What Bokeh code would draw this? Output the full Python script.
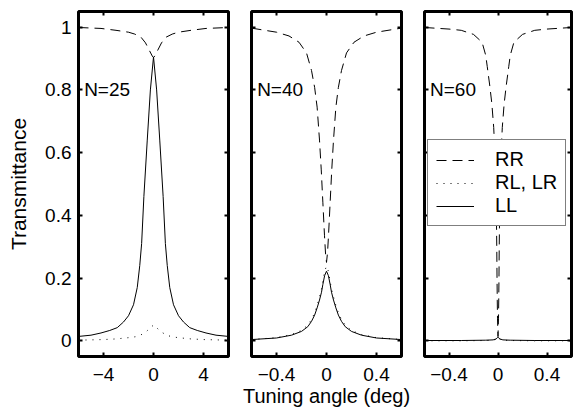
from bokeh.plotting import figure
from bokeh.models import (Range1d, FixedTicker, CustomJSTickFormatter, LinearAxis,
                          Label, Legend, LegendItem)
from bokeh.layouts import row
from bokeh.embed import file_html
from bokeh.resources import INLINE

FONT = "Liberation Sans"

# ---------------- data ----------------
y_ticks = [0, 0.2, 0.4, 0.6, 0.8, 1.0]
x_ticks_n25 = [-4, 0, 4]
x_ticks_n40 = [-0.4, 0, 0.4]
x_ticks_n60 = [-0.4, 0, 0.4]
panel_labels = ["N=25", "N=40", "N=60"]
legend_labels = ["RR", "RL, LR", "LL"]

# N=25
n25_ll_x = [-6, -5, -4.2, -3.5, -2.9, -2.4, -2.0, -1.6, -1.3, -1.1, -0.95, -0.77, -0.5, -0.25, 0,
            0.25, 0.5, 0.77, 0.95, 1.1, 1.3, 1.6, 2.0, 2.4, 2.9, 3.5, 4.2, 5, 6]
n25_ll = [0.014, 0.018, 0.025, 0.033, 0.042, 0.06, 0.08, 0.115, 0.17, 0.24, 0.31, 0.46, 0.64, 0.80, 0.905,
          0.80, 0.64, 0.46, 0.31, 0.24, 0.17, 0.115, 0.08, 0.06, 0.042, 0.033, 0.025, 0.018, 0.014]
n25_rr_x = [-6, -4.2, -3, -2, -1.5, -1.0, -0.64, -0.32, -0.1, 0,
            0.1, 0.32, 0.64, 1.0, 1.5, 2, 3, 4.2, 6]
n25_rr = [0.999, 0.996, 0.99, 0.984, 0.978, 0.968, 0.95, 0.925, 0.908, 0.903,
          0.908, 0.925, 0.95, 0.968, 0.978, 0.984, 0.99, 0.996, 0.999]
n25_rl_x = [-6, -4, -3, -2, -1.44, -1, -0.56, -0.25, 0, 0.25, 0.56, 1, 1.44, 2, 3, 4, 6]
n25_rl = [0.002, 0.004, 0.006, 0.01, 0.013, 0.019, 0.03, 0.042, 0.05,
          0.042, 0.03, 0.019, 0.013, 0.01, 0.006, 0.004, 0.002]

# N=40
n40_rr_x = [-0.6, -0.4, -0.3, -0.22, -0.16, -0.12, -0.095, -0.075, -0.056, -0.042, -0.029, -0.016, -0.008, 0,
            0.008, 0.016, 0.029, 0.042, 0.056, 0.075, 0.095, 0.12, 0.16, 0.22, 0.3, 0.4, 0.6]
n40_rr = [0.997, 0.984, 0.972, 0.952, 0.918, 0.862, 0.808, 0.745, 0.64, 0.545, 0.44, 0.335, 0.28, 0.25,
          0.28, 0.335, 0.44, 0.545, 0.64, 0.745, 0.808, 0.862, 0.918, 0.952, 0.972, 0.984, 0.997]
n40_ll_x = [-0.6, -0.4, -0.28, -0.2, -0.15, -0.12, -0.095, -0.075, -0.056, -0.04, -0.029, -0.015, 0,
            0.015, 0.029, 0.04, 0.056, 0.075, 0.095, 0.12, 0.15, 0.2, 0.28, 0.4, 0.6]
n40_ll = [0.004, 0.009, 0.018, 0.03, 0.045, 0.062, 0.082, 0.105, 0.13, 0.155, 0.18, 0.208, 0.222,
          0.208, 0.18, 0.155, 0.13, 0.105, 0.082, 0.062, 0.045, 0.03, 0.018, 0.009, 0.004]
n40_rl = [0.004, 0.01, 0.02, 0.033, 0.05, 0.068, 0.089, 0.113, 0.14, 0.165, 0.19, 0.222, 0.238,
          0.222, 0.19, 0.165, 0.14, 0.113, 0.089, 0.068, 0.05, 0.033, 0.02, 0.01, 0.004]

# N=60
n60_rr_x = [-0.6, -0.4, -0.3, -0.2, -0.13, -0.1, -0.088, -0.066, -0.05, -0.035, -0.025, -0.018, -0.013,
            -0.01, -0.008, -0.006, -0.004, 0,
            0.004, 0.006, 0.008, 0.01, 0.013, 0.018, 0.025, 0.035, 0.05, 0.066, 0.088, 0.1, 0.13, 0.2,
            0.3, 0.4, 0.6]
n60_rr = [0.999, 0.994, 0.99, 0.977, 0.952, 0.91, 0.875, 0.81, 0.755, 0.68, 0.596, 0.50, 0.40,
          0.30, 0.20, 0.13, 0.07, 0.015,
          0.07, 0.13, 0.20, 0.30, 0.40, 0.50, 0.596, 0.68, 0.755, 0.81, 0.875, 0.91, 0.952, 0.977,
          0.99, 0.994, 0.999]
n60_ll_x = [-0.6, -0.3, -0.1, -0.04, -0.015, -0.005, 0, 0.005, 0.015, 0.04, 0.1, 0.3, 0.6]
n60_ll = [0.001, 0.001, 0.002, 0.003, 0.006, 0.01, 0.014, 0.01, 0.006, 0.003, 0.002, 0.001, 0.001]
n60_rl = [0.0, 0.0, 0.001, 0.002, 0.005, 0.009, 0.012, 0.009, 0.005, 0.002, 0.001, 0.0, 0.0]

# ---------------- styling helpers ----------------
TICK_FMT = CustomJSTickFormatter(
    code="return (tick < 0 ? '\\u2212' : '') + Math.abs(Number(tick.toFixed(2))).toString();")

DASH = "10 6"
DOT = "1 6"


def style_axis(ax, ticks, show_labels):
    ax.ticker = FixedTicker(ticks=ticks)
    ax.axis_line_color = None
    ax.major_tick_in = 4
    ax.major_tick_out = 0
    ax.major_tick_line_width = 2
    ax.major_tick_line_color = "black"
    ax.minor_tick_line_color = None
    if show_labels:
        ax.formatter = TICK_FMT
        ax.major_label_text_font = FONT
        ax.major_label_text_font_size = "19px"
        ax.major_label_text_color = "black"
    else:
        ax.major_label_text_font_size = "1px"
        ax.major_label_text_color = None
        ax.major_label_standoff = 0


def make_panel(width, xr, xticks, left, right, show_ylabels, xlabel=None, ylabel=None):
    p = figure(width=width, height=416, x_range=Range1d(*xr), y_range=Range1d(-0.05, 1.05),
               output_backend="svg", toolbar_location=None,
               min_border_left=left, min_border_right=right, min_border_top=11, min_border_bottom=60)
    p.grid.visible = False
    p.outline_line_color = "black"
    p.outline_line_width = 3
    p.outline_line_alpha = 1
    p.background_fill_color = "white"
    p.border_fill_color = "white"

    xa = p.xaxis[0]
    style_axis(xa, xticks, True)
    xa.major_label_standoff = 11
    ya = p.yaxis[0]
    style_axis(ya, y_ticks, show_ylabels)
    if show_ylabels:
        ya.major_label_standoff = 7
    if xlabel:
        xa.axis_label = xlabel
        xa.axis_label_text_font = FONT
        xa.axis_label_text_font_size = "20px"
        xa.axis_label_text_font_style = "normal"
        xa.axis_label_text_color = "black"
        xa.axis_label_standoff = 1
    if ylabel:
        ya.axis_label = ylabel
        ya.axis_label_text_font = FONT
        ya.axis_label_text_font_size = "21px"
        ya.axis_label_text_font_style = "normal"
        ya.axis_label_text_color = "black"
        ya.axis_label_standoff = 12

    top = LinearAxis()
    style_axis(top, xticks, False)
    p.add_layout(top, "above")
    rgt = LinearAxis()
    style_axis(rgt, y_ticks, False)
    p.add_layout(rgt, "right")
    return p


p1 = make_panel(239, (-6, 6), x_ticks_n25, 78, 11, True, ylabel="Transmittance")
p2 = make_panel(173, (-0.6, 0.6), x_ticks_n40, 12, 11, False, xlabel="Tuning angle (deg)")
p3 = make_panel(161, (-0.6, 0.6), x_ticks_n60, 12, 2, False)

# N=25
p1.line(n25_rr_x, n25_rr, line_color="black", line_width=1, line_dash=DASH)
p1.line(n25_rl_x, n25_rl, line_color="black", line_width=1, line_dash=DOT)
p1.line(n25_ll_x, n25_ll, line_color="black", line_width=1)

# N=40
p2.line(n40_rr_x, n40_rr, line_color="black", line_width=1, line_dash=DASH)
p2.line(n40_ll_x, n40_rl, line_color="black", line_width=1, line_dash=DOT)
p2.line(n40_ll_x, n40_ll, line_color="black", line_width=1)

# N=60
r_rr = p3.line(n60_rr_x, n60_rr, line_color="black", line_width=1, line_dash=DASH)
r_rl = p3.line(n60_ll_x, n60_rl, line_color="black", line_width=1, line_dash=DOT)
r_ll = p3.line(n60_ll_x, n60_ll, line_color="black", line_width=1)

for p, lab, xl in ((p1, panel_labels[0], -5.55), (p2, panel_labels[1], -0.555), (p3, panel_labels[2], -0.555)):
    p.add_layout(Label(x=xl, y=0.8, text=lab, text_font=FONT, text_font_size="19px",
                       text_baseline="middle", text_align="left", text_color="black"))

legend = Legend(items=[LegendItem(label=legend_labels[0], renderers=[r_rr]),
                       LegendItem(label=legend_labels[1], renderers=[r_rl]),
                       LegendItem(label=legend_labels[2], renderers=[r_ll])],
                location=(3, 130), padding=8, spacing=0, margin=0,
                glyph_width=38, glyph_height=22, label_height=22,
                label_standoff=21, label_text_font=FONT, label_text_font_size="20px",
                label_text_color="black",
                border_line_color="black", border_line_width=1,
                background_fill_color="white", background_fill_alpha=1)
p3.add_layout(legend, "center")

layout = row(p1, p2, p3, spacing=0)
open("out.html", "w").write(file_html(layout, INLINE))
